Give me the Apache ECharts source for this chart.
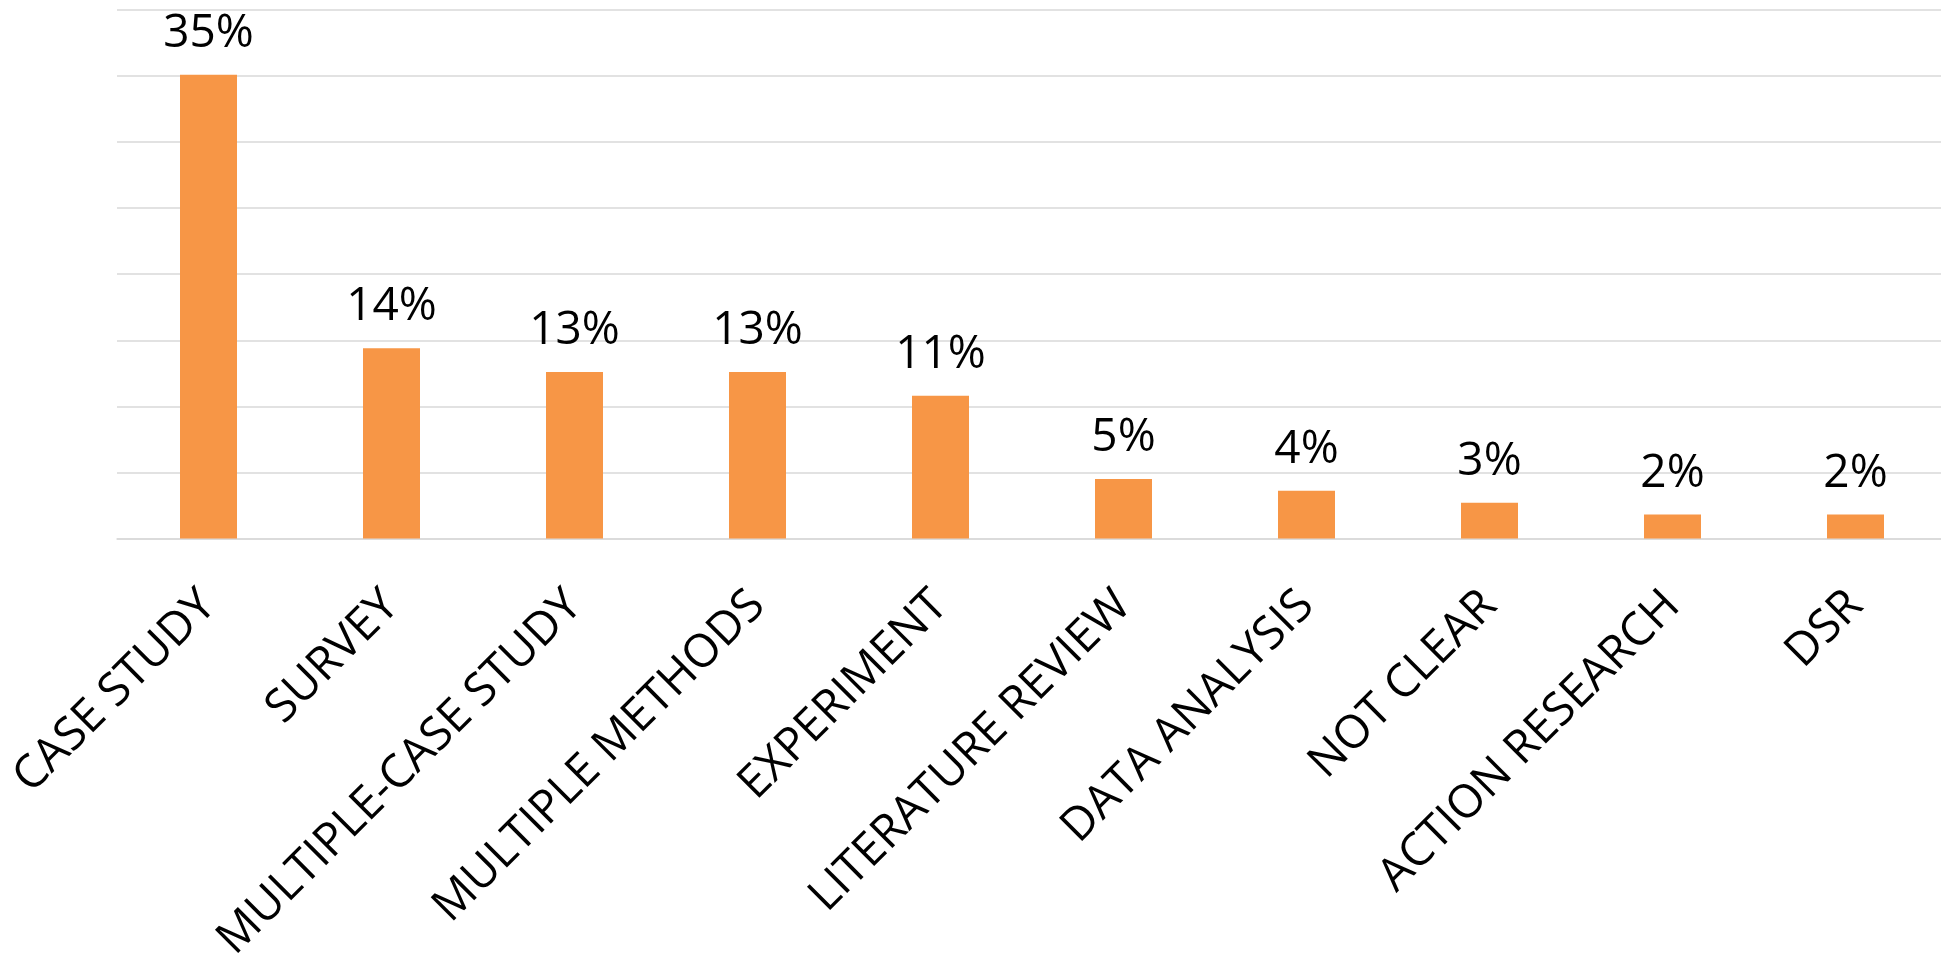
<!DOCTYPE html>
<html>
<head>
<meta charset="utf-8">
<script src="https://cdn.jsdelivr.net/npm/echarts@6/dist/echarts.min.js"></script>
<style>
html,body{margin:0;padding:0;background:#fff;}
#c{width:1941px;height:957px;}
</style>
</head>
<body>
<div id="c"></div>
<script>
const categories = ['CASE STUDY','SURVEY','MULTIPLE-CASE STUDY','MULTIPLE METHODS','EXPERIMENT','LITERATURE REVIEW','DATA ANALYSIS','NOT CLEAR','ACTION RESEARCH','DSR'];
const values = [35.1, 14.4, 12.6, 12.6, 10.8, 4.5, 3.6, 2.7, 1.8, 1.8];
const valueLabels = ['35%','14%','13%','13%','11%','5%','4%','3%','2%','2%'];

const chart = echarts.init(document.getElementById('c'), null, {renderer:'canvas'});
chart.setOption({
  animation: false,
  backgroundColor: '#ffffff',
  grid: {left: 117, top: 10, width: 1830, height: 528.4, containLabel: false, outerBoundsMode: 'none'},
  xAxis: {
    type: 'category',
    data: categories,
    axisLine: {show: true, lineStyle: {color: '#D9D9D9', width: 1.5}},
    axisTick: {show: false},
    axisLabel: {
      rotate: 45,
      interval: 0,
      margin: 60,
      color: '#000000',
      fontFamily: 'Open Sans',
      fontSize: 46
    }
  },
  yAxis: {
    type: 'value',
    min: 0, max: 40, interval: 5,
    axisLabel: {show: false},
    axisLine: {show: false},
    axisTick: {show: false},
    splitLine: {show: true, lineStyle: {color: '#D9D9D9', width: 1.5}}
  },
  series: [{
    type: 'bar',
    data: values,
    barWidth: 57,
    itemStyle: {color: '#F79646'},
    label: {
      show: true,
      position: 'top',
      distance: 18,
      color: '#000000',
      fontFamily: 'Open Sans',
      fontSize: 46,
      formatter: p => valueLabels[p.dataIndex]
    }
  }]
});
</script>
</body>
</html>
